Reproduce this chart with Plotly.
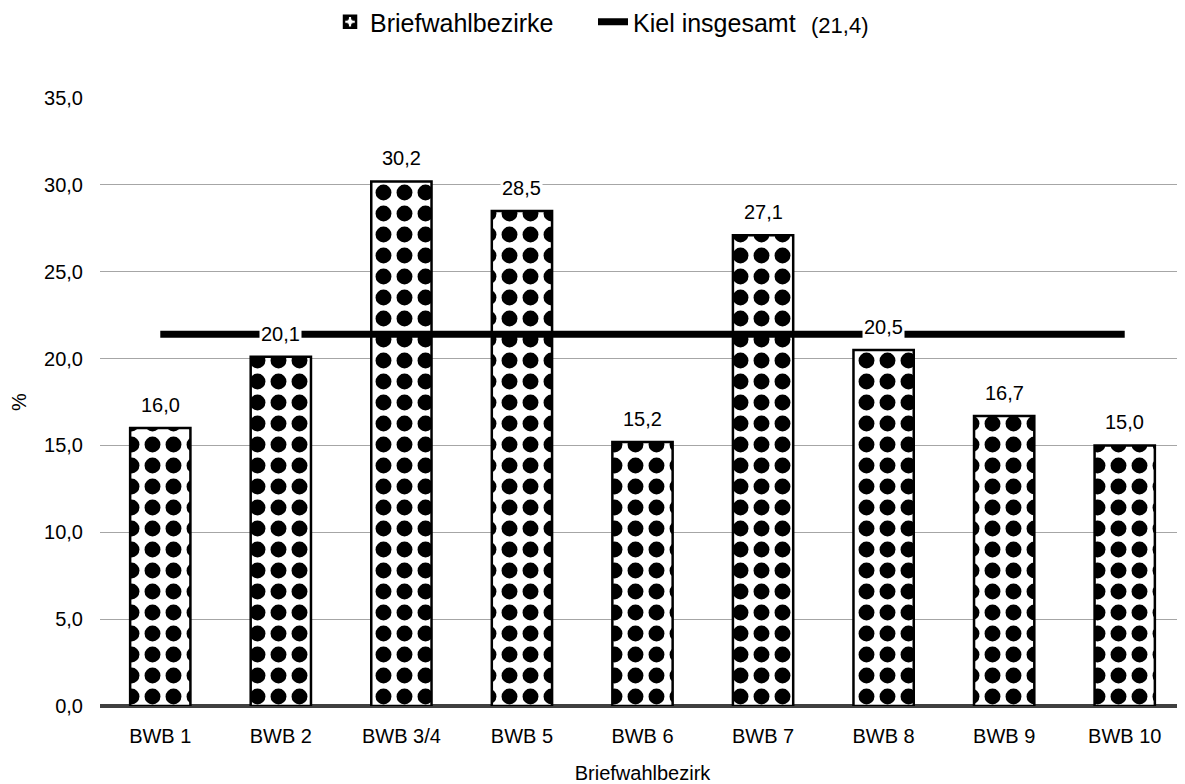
import plotly.graph_objects as go

bezirke = ["BWB 1", "BWB 2", "BWB 3/4", "BWB 5", "BWB 6", "BWB 7", "BWB 8", "BWB 9", "BWB 10"]
anteil = [16.0, 20.1, 30.2, 28.5, 15.2, 27.1, 20.5, 16.7, 15.0]
kiel_gesamt = 21.4
y_ticks = [0, 5, 10, 15, 20, 25, 30, 35]

FONT = "Liberation Sans, Arial, sans-serif"

fig = go.Figure()

fig.add_trace(go.Bar(
    x=bezirke, y=anteil, name="Briefwahlbezirke",
    width=0.5,
    marker=dict(
        color="white",
        line=dict(color="black", width=2.5),
        pattern=dict(shape=".", fgcolor="black", bgcolor="white",
                     fgopacity=1, size=21, solidity=0.45),
    ),
))

fig.add_trace(go.Scatter(
    x=bezirke, y=[kiel_gesamt] * len(bezirke),
    mode="lines", name="Kiel insgesamt",
    line=dict(color="black", width=7),
))

# Datenbeschriftungen mit weißem Hintergrund
for b, v in zip(bezirke, anteil):
    fig.add_annotation(
        x=b, y=v, text=f"{v:.1f}".replace(".", ","),
        showarrow=False, yshift=23, bgcolor="white",
        font=dict(size=20, color="black", family=FONT),
    )

# Wert für Kiel insgesamt neben der Legende
fig.add_annotation(
    xref="paper", yref="paper", x=0.682, y=1.12,
    xanchor="center", yanchor="middle",
    text=f"({kiel_gesamt:.1f})".replace(".", ","),
    showarrow=False, font=dict(size=22, color="black", family=FONT),
)

fig.update_layout(
    width=1185, height=784,
    margin=dict(l=92, r=8, t=90, b=86, autoexpand=False),
    plot_bgcolor="white", paper_bgcolor="white",
    font=dict(family=FONT, size=20, color="black"),
    separators=",.",
    legend=dict(
        orientation="h", x=0.212, xanchor="left", y=1.125, yanchor="middle",
        font=dict(size=25), traceorder="normal", entrywidth=218,
    ),
    xaxis=dict(
        title=dict(text="Briefwahlbezirk", standoff=19, font=dict(size=20)),
        showgrid=False, ticks="", ticklabelstandoff=16,
        showline=False, zeroline=False, automargin=False,
    ),
    yaxis=dict(
        title=dict(text="%", standoff=16, font=dict(size=20)),
        range=[0, 35], tickvals=y_ticks, tickformat=".1f",
        showgrid=True, gridcolor="#a6a6a6", gridwidth=1,
        zeroline=True, zerolinecolor="#404040", zerolinewidth=4,
        ticks="", ticklabelstandoff=16, automargin=False,
    ),
)

fig.write_html("out.html")
